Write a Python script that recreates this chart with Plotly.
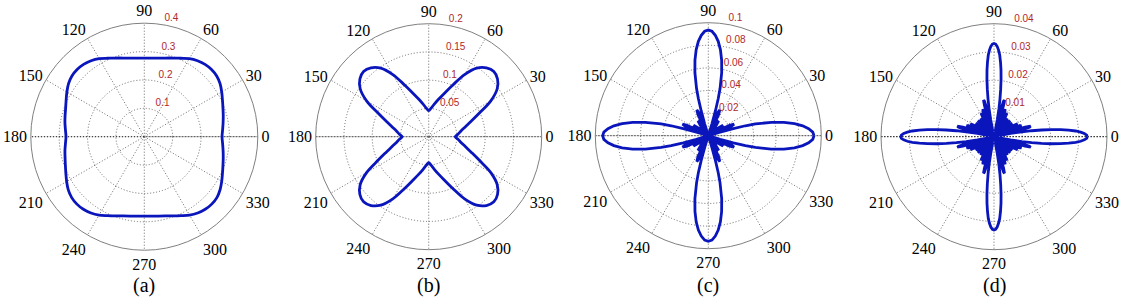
import plotly.graph_objects as go

# ---------------- data ----------------
theta_ab = list(range(0, 361, 5))

r_a = [0.274, 0.277, 0.282, 0.288, 0.295, 0.304, 0.315, 0.326, 0.333, 0.335,
       0.333, 0.327, 0.318, 0.305, 0.295, 0.287, 0.281, 0.278, 0.277,
       0.278, 0.281, 0.287, 0.295, 0.305, 0.318, 0.327, 0.333, 0.335,
       0.333, 0.326, 0.315, 0.304, 0.295, 0.289, 0.284, 0.279, 0.276,
       0.279, 0.284, 0.289, 0.296, 0.305, 0.316, 0.327, 0.334, 0.336,
       0.334, 0.328, 0.319, 0.307, 0.297, 0.289, 0.284, 0.281, 0.280,
       0.281, 0.284, 0.289, 0.297, 0.307, 0.319, 0.328, 0.334, 0.336,
       0.334, 0.326, 0.315, 0.304, 0.295, 0.288, 0.282, 0.277, 0.274]

r_b = [0.047, 0.052, 0.058, 0.067, 0.080, 0.099, 0.127, 0.148, 0.159, 0.163,
       0.159, 0.148, 0.127, 0.101, 0.082, 0.069, 0.059, 0.051, 0.046,
       0.051, 0.059, 0.069, 0.082, 0.101, 0.127, 0.148, 0.159, 0.163,
       0.159, 0.148, 0.127, 0.099, 0.080, 0.067, 0.058, 0.052, 0.047,
       0.052, 0.058, 0.067, 0.080, 0.099, 0.127, 0.148, 0.159, 0.163,
       0.159, 0.148, 0.127, 0.101, 0.082, 0.069, 0.059, 0.051, 0.046,
       0.051, 0.059, 0.069, 0.082, 0.101, 0.127, 0.148, 0.159, 0.163,
       0.159, 0.148, 0.127, 0.099, 0.080, 0.067, 0.058, 0.052, 0.047]

# (c): one quadrant profile (angle offset from a main lobe, radius)
phi_c = [0, 2, 4, 6, 8, 10, 12, 14, 15, 16, 17, 18,
         20, 22, 24, 26, 28, 29,
         31, 33, 35, 37, 39,
         41, 43, 45, 47, 49,
         51, 53, 55, 57, 59,
         61, 62, 64, 66, 68, 70,
         72, 73, 74, 75, 76, 78, 80, 82, 84, 86, 88]
rq_c = [0.0935, 0.0925, 0.089, 0.084, 0.077, 0.068, 0.057, 0.043, 0.034, 0.023, 0.011, 0.0,
        0.012, 0.022, 0.025, 0.021, 0.010, 0.0,
        0.008, 0.014, 0.016, 0.012, 0.003,
        0.0, 0.009, 0.011, 0.009, 0.0,
        0.003, 0.012, 0.016, 0.014, 0.008,
        0.0, 0.010, 0.021, 0.025, 0.022, 0.012,
        0.0, 0.011, 0.023, 0.034, 0.043, 0.057, 0.068, 0.077, 0.084, 0.089, 0.0925]

# (d): one quadrant profile
phi_d = [0, 1, 2, 3, 4, 5, 6, 7, 8, 9, 10, 11, 12,
         13, 14, 15, 16, 17, 18, 19,
         20, 21, 22, 23, 24, 25,
         27, 28, 29, 30, 31, 32,
         34, 36, 37, 38, 39,
         41, 43, 45, 47, 49,
         51, 52, 53, 54, 56,
         58, 59, 60, 61, 62, 63,
         65, 66, 67, 68, 69, 70,
         71, 72, 73, 74, 75, 76, 77,
         78, 79, 80, 81, 82, 83, 84, 85, 86, 87, 88, 89]
rq_d = [0.033, 0.0328, 0.032, 0.0307, 0.029, 0.0265, 0.0237, 0.0205, 0.017, 0.0135, 0.010, 0.006, 0.002,
        0.005, 0.010, 0.013, 0.0135, 0.0115, 0.006, 0.0,
        0.005, 0.009, 0.0105, 0.010, 0.006, 0.0,
        0.006, 0.009, 0.0095, 0.008, 0.004, 0.0,
        0.005, 0.008, 0.0075, 0.005, 0.0,
        0.003, 0.007, 0.008, 0.007, 0.003,
        0.0, 0.005, 0.0075, 0.008, 0.005,
        0.0, 0.004, 0.008, 0.0095, 0.009, 0.006,
        0.0, 0.006, 0.010, 0.0105, 0.009, 0.005,
        0.0, 0.006, 0.0115, 0.0135, 0.013, 0.010, 0.005,
        0.002, 0.006, 0.010, 0.0135, 0.017, 0.0205, 0.0237, 0.0265, 0.029, 0.0307, 0.032, 0.0328]

quadrants = [0, 90, 180, 270]


def full_turn(phi, rq):
    th, rr = [], []
    for q in quadrants:
        th += [q + p for p in phi]
        rr += list(rq)
    th.append(360)
    rr.append(rq[0])
    return th, rr


theta_c, r_c = full_turn(phi_c, rq_c)
theta_d, r_d = full_turn(phi_d, rq_d)

r_max = [0.4, 0.2, 0.1, 0.04]
r_ticks = [[0.1, 0.2, 0.3, 0.4], [0.05, 0.1, 0.15, 0.2],
           [0.02, 0.04, 0.06, 0.08, 0.1], [0.01, 0.02, 0.03, 0.04]]
r_ticktext = [["0.1", "0.2", "0.3", "0.4"], ["0.05", "0.1", "0.15", "0.2"],
              ["0.02", "0.04", "0.06", "0.08", "0.1"], ["0.01", "0.02", "0.03", "0.04"]]
ang_ticks = [0, 30, 60, 90, 120, 150, 180, 210, 240, 270, 300, 330]
ang_text = [str(a) for a in ang_ticks]
panel_labels = ["(a)", "(b)", "(c)", "(d)"]

# ---------------- layout geometry ----------------
W, H = 1132, 302
centers = [(144.3, 136.7), (428.7, 136.7), (708.3, 135.7), (994.0, 136.7)]
radius_px = [113.5, 113.0, 113.0, 113.0]

LINE_BLUE = "#0a16bc"
GRID = "#6a6a6a"
LABEL_ANGLE = 84
PAD = "\u00a0\u00a0\u00a0"

fig = go.Figure()
series = [(theta_ab, r_a, "spline"), (theta_ab, r_b, "spline"),
          (theta_c, r_c, "linear"), (theta_d, r_d, "linear")]

layout_polars = {}
for i, (th, rr, shape) in enumerate(series):
    sub = "polar" if i == 0 else f"polar{i+1}"
    # darker horizontal 0-180 grid line
    fig.add_trace(go.Scatterpolar(r=[r_max[i], 0, r_max[i]], theta=[0, 0, 180],
                                  mode="lines", subplot=sub,
                                  line=dict(color="#111111", width=1, dash="1px,2px"),
                                  showlegend=False, hoverinfo="skip"))
    fig.add_trace(go.Scatterpolar(r=rr, theta=th, mode="lines", subplot=sub,
                                  line=dict(color=LINE_BLUE, width=2.8, shape=shape),
                                  showlegend=False))
    # radial tick labels (red), placed at the ring values
    fig.add_trace(go.Scatterpolar(r=r_ticks[i], theta=[LABEL_ANGLE] * len(r_ticks[i]),
                                  mode="text", text=[PAD + t for t in r_ticktext[i]],
                                  subplot=sub,
                                  textposition="top right", cliponaxis=False,
                                  textfont=dict(family="Arial, Liberation Sans", size=10,
                                                color="#b0282a"),
                                  showlegend=False, hoverinfo="skip"))
    cx, cy = centers[i]
    R = radius_px[i]
    layout_polars[sub] = dict(
        domain=dict(x=[(cx - R) / W, (cx + R) / W],
                    y=[(H - cy - R) / H, (H - cy + R) / H]),
        bgcolor="white",
        radialaxis=dict(range=[0, r_max[i]], tickvals=r_ticks[i],
                        showticklabels=False, showline=False, ticks="",
                        gridcolor=GRID, griddash="1px,2px", gridwidth=1),
        angularaxis=dict(direction="counterclockwise", rotation=0,
                         tickvals=ang_ticks, ticktext=ang_text, ticks="",
                         showline=True, linecolor="#808080", linewidth=1,
                         gridcolor=GRID, griddash="1px,2px", gridwidth=1,
                         tickfont=dict(family="Liberation Serif", size=16,
                                       color="black")),
    )

annotations = []
for i, lab in enumerate(panel_labels):
    annotations.append(dict(text=lab, x=centers[i][0] / W, y=(H - 285) / H,
                            xref="paper", yref="paper", showarrow=False,
                            xanchor="center", yanchor="middle",
                            font=dict(family="Liberation Serif", size=20,
                                      color="black")))

fig.update_layout(width=W, height=H, margin=dict(l=0, r=0, t=0, b=0),
                  paper_bgcolor="white", plot_bgcolor="white",
                  template="none", showlegend=False,
                  annotations=annotations, **layout_polars)

fig.write_html("out.html", config={"displayModeBar": False},
               post_script="document.body.style.margin='0';document.body.style.overflow='hidden';")
